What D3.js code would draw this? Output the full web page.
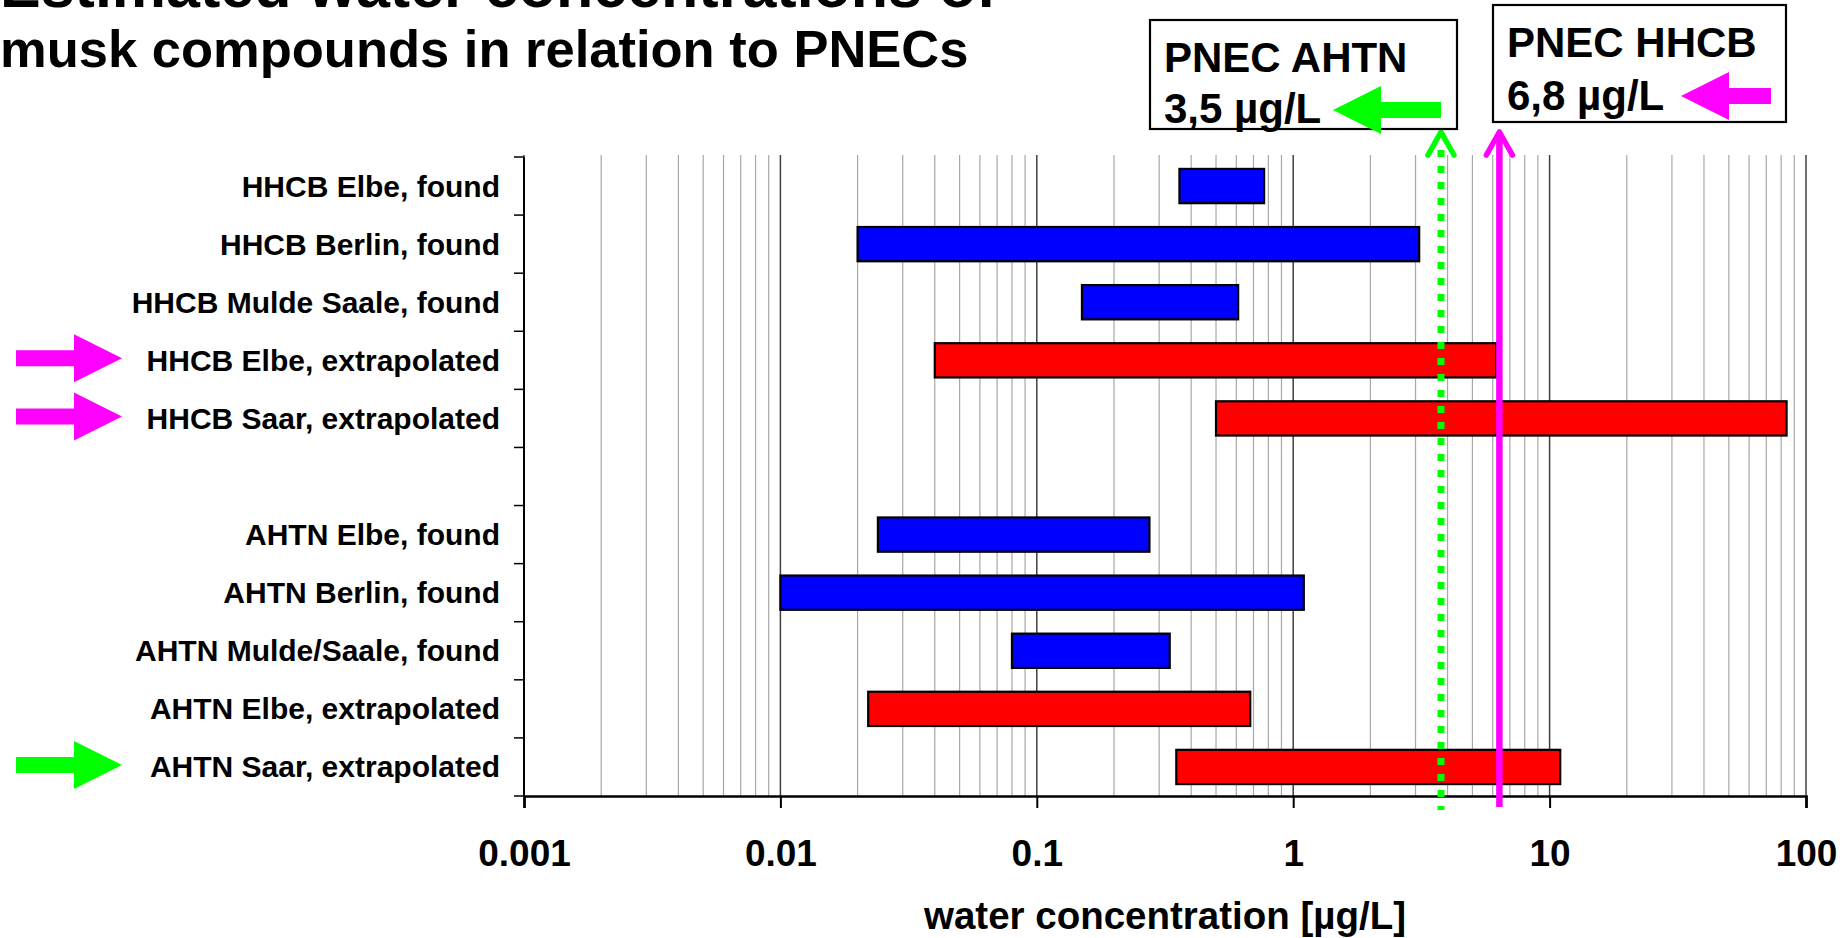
<!DOCTYPE html>
<html>
<head>
<meta charset="utf-8">
<script src="https://cdn.jsdelivr.net/npm/d3@7"></script>
<style>
  body { margin: 0; background: white; }
  svg { display: block; font-family: 'Liberation Sans', Arial, sans-serif; font-weight: bold; }
</style>
</head>
<body>
<div id="chart"></div>
<script>
// rows from top to bottom, the empty one is the gap between HHCB and AHTN
const categories = ['HHCB Elbe, found', 'HHCB Berlin, found', 'HHCB Mulde Saale, found',
  'HHCB Elbe, extrapolated', 'HHCB Saar, extrapolated', '',
  'AHTN Elbe, found', 'AHTN Berlin, found', 'AHTN Mulde/Saale, found',
  'AHTN Elbe, extrapolated', 'AHTN Saar, extrapolated']
const lowValues = [0.36, 0.02, 0.15, 0.04, 0.5, null, 0.024, 0.01, 0.08, 0.022, 0.35]
const highValues = [0.77, 3.1, 0.61, 6.2, 84, null, 0.275, 1.1, 0.33, 0.68, 11]
const kinds = ['found', 'found', 'found', 'extrapolated', 'extrapolated', null,
  'found', 'found', 'found', 'extrapolated', 'extrapolated']
const tickValues = [0.001, 0.01, 0.1, 1, 10, 100]
const titleLines = ['Estimated water concentrations of', 'musk compounds in relation to PNECs']
const xTitle = 'water concentration [µg/L]'
// PNEC annotations
const pnecNames = ['PNEC AHTN', 'PNEC HHCB']
const pnecLabels = ['3,5 µg/L', '6,8 µg/L']
const pnecLineAt = [3.77, 6.37] // where the lines sit in the picture
const pnecColors = ['#00ff00', '#ff00ff']
// rows flagged with an arrow on the left
const flaggedRows = ['HHCB Elbe, extrapolated', 'HHCB Saar, extrapolated', 'AHTN Saar, extrapolated']
const flagColors = ['#ff00ff', '#ff00ff', '#00ff00']

const width = 1846
const height = 938
const plotLeft = 524, plotRight = 1806, plotTop = 157, plotBottom = 796

const svg = d3.select('#chart').append('svg')
  .attr('width', width)
  .attr('height', height)

var x = d3.scaleLog()
  .domain([0.001, 100])
  .range([plotLeft, plotRight])

var y = d3.scaleBand()
  .domain(categories)
  .range([plotTop, plotBottom])
  .paddingInner(0.41)
  .paddingOuter(0.205)

// gridlines
var grid = svg.append('g')
grid.selectAll('line')
  .data(x.ticks())
  .enter()
  .append('line')
  .attr('x1', d => x(d))
  .attr('x2', d => x(d))
  .attr('y1', plotTop - 2)
  .attr('y2', plotBottom)
  .style('stroke', d => Number.isInteger(Math.log10(d)) ? '#404040' : '#a8a8a8')
  .style('stroke-width', d => Number.isInteger(Math.log10(d)) ? 1.5 : 1.2)

// bars
var rows = categories.map((c, i) => ({ cat: c, lo: lowValues[i], hi: highValues[i], kind: kinds[i] }))
  .filter(d => d.lo != null)
svg.append('g').selectAll('rect')
  .data(rows)
  .enter()
  .append('rect')
  .attr('x', d => x(d.lo))
  .attr('y', d => y(d.cat))
  .attr('width', d => x(d.hi) - x(d.lo))
  .attr('height', y.bandwidth())
  .style('fill', d => d.kind == 'found' ? '#0000ff' : '#ff0000')
  .style('stroke', 'black')
  .style('stroke-width', 2.2)

// y axis with ticks between the rows
var step = y.step()
var yAxis = svg.append('g')
yAxis.append('line')
  .attr('x1', plotLeft).attr('x2', plotLeft)
  .attr('y1', plotTop).attr('y2', plotBottom)
  .style('stroke', 'black').style('stroke-width', 2)
yAxis.selectAll('.ytick')
  .data(d3.range(categories.length + 1))
  .enter()
  .append('line')
  .attr('class', 'ytick')
  .attr('x1', plotLeft - 10).attr('x2', plotLeft)
  .attr('y1', i => plotTop + i * step).attr('y2', i => plotTop + i * step)
  .style('stroke', 'black').style('stroke-width', 1.5)
yAxis.selectAll('text')
  .data(categories)
  .enter()
  .append('text')
  .attr('x', 500)
  .attr('y', d => y(d) + y.bandwidth() / 2)
  .attr('dy', '0.35em')
  .attr('text-anchor', 'end')
  .style('font-size', '30px')
  .text(d => d)

// x axis
var xAxis = svg.append('g')
  .attr('transform', 'translate(0,' + plotBottom + ')')
  .call(d3.axisBottom(x).tickValues(tickValues).tickFormat(d => String(d)).tickSize(12).tickPadding(32))
xAxis.select('.domain').style('stroke-width', 2.6)
xAxis.selectAll('.tick line').style('stroke-width', 2)
xAxis.selectAll('.tick text')
  .style('font-size', '37px')
  .style('font-family', "'Liberation Sans', Arial, sans-serif")
  .style('font-weight', 'bold')
  .attr('fill', 'black')

svg.append('text')
  .attr('x', (plotLeft + plotRight) / 2)
  .attr('y', 929)
  .attr('text-anchor', 'middle')
  .style('font-size', '38.5px')
  .text(xTitle)

// title, the first line is larger and cut off by the top edge
svg.append('text')
  .attr('x', 0)
  .attr('y', 7)
  .style('font-size', '61px')
  .text(titleLines[0])
svg.append('text')
  .attr('x', 0)
  .attr('y', 67)
  .style('font-size', '52.5px')
  .text(titleLines[1])

// PNEC lines with open arrow heads
var pnec = svg.append('g')
pnec.append('line')
  .attr('x1', x(pnecLineAt[0])).attr('x2', x(pnecLineAt[0]))
  .attr('y1', 150).attr('y2', 810)
  .style('stroke', pnecColors[0]).style('stroke-width', 7)
  .style('stroke-dasharray', '7 9')
pnec.append('line')
  .attr('x1', x(pnecLineAt[1])).attr('x2', x(pnecLineAt[1]))
  .attr('y1', 133).attr('y2', 807)
  .style('stroke', pnecColors[1]).style('stroke-width', 6.5)
pnec.selectAll('path')
  .data(pnecLineAt)
  .enter()
  .append('path')
  .attr('d', d => {
    let cx = x(d)
    return 'M' + (cx - 13) + ',155 L' + cx + ',132 L' + (cx + 13) + ',155'
  })
  .style('fill', 'none')
  .style('stroke', (d, i) => pnecColors[i])
  .style('stroke-width', 5.5)
  .style('stroke-linecap', 'round')
  .style('stroke-linejoin', 'round')

// block arrow, tip at (tx, ty), dir 1 = right, -1 = left
function blockArrow (tx, ty, dir, shaft, color) {
  let hb = tx - dir * 48
  let tail = hb - dir * shaft
  let pts = [[tail, ty - 8], [hb, ty - 8], [hb, ty - 24], [tx, ty], [hb, ty + 24], [hb, ty + 8], [tail, ty + 8]]
  svg.append('polygon')
    .attr('points', pts.map(p => p.join(',')).join(' '))
    .style('fill', color)
}

// PNEC boxes
var boxes = [
  { x: 1150, y: 20, w: 307, h: 109, l1: 72, l2: 123 },
  { x: 1493, y: 5, w: 293, h: 117, l1: 57, l2: 110 }
]
boxes.forEach((b, i) => {
  svg.append('rect')
    .attr('x', b.x).attr('y', b.y)
    .attr('width', b.w).attr('height', b.h)
    .style('fill', 'white')
    .style('stroke', 'black')
    .style('stroke-width', 2.2)
  svg.append('text')
    .attr('x', b.x + 14).attr('y', b.l1)
    .style('font-size', '42px')
    .text(pnecNames[i])
  svg.append('text')
    .attr('x', b.x + 14).attr('y', b.l2)
    .style('font-size', '42px')
    .text(pnecLabels[i])
})
blockArrow(1333, 110, -1, x(pnecLineAt[0]) - 1381, pnecColors[0])
blockArrow(1681, 96, -1, 42, pnecColors[1])

// arrows next to the flagged rows
flaggedRows.forEach((r, i) => {
  blockArrow(122, y(r) + y.bandwidth() / 2 - 2, 1, 58, flagColors[i])
})
</script>
</body>
</html>
